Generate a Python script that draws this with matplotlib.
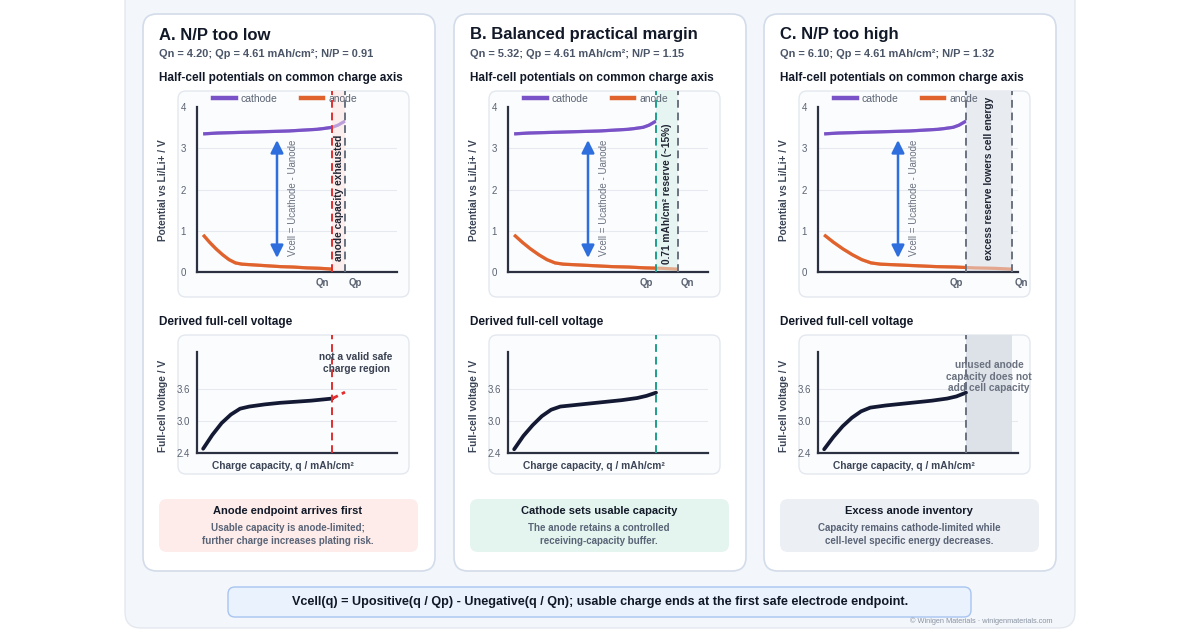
import matplotlib
matplotlib.use('Agg')
import matplotlib.pyplot as plt
from matplotlib.patches import FancyBboxPatch, Rectangle
from matplotlib.lines import Line2D

plt.rcParams['font.family'] = ['Liberation Sans', 'DejaVu Sans']

# ---- data ----
panel_titles = ['A. N/P too low', 'B. Balanced practical margin', 'C. N/P too high']
qn_vals = [4.20, 5.32, 6.10]
qp_vals = [4.61, 4.61, 4.61]
np_vals = [0.91, 1.15, 1.32]

# half-cell curves vs. fraction of each electrode's own capacity
cath_soc = [0, 0.1, 0.2, 0.3, 0.4, 0.5, 0.6, 0.7, 0.8, 0.85, 0.91, 0.95, 1.0]
cath_u = [3.35, 3.37, 3.38, 3.39, 3.40, 3.41, 3.42, 3.44, 3.46, 3.48, 3.51, 3.56, 3.66]
an_soc = [0, 0.05, 0.1, 0.15, 0.2, 0.25, 0.3, 0.4, 0.5, 0.6, 0.7, 0.8, 0.9, 1.0]
an_u = [0.90, 0.72, 0.56, 0.42, 0.30, 0.22, 0.19, 0.17, 0.15, 0.13, 0.12, 0.10, 0.09, 0.07]

# derived full-cell voltage
fc_q = [
    [0, 0.3, 0.6, 0.9, 1.2, 1.5, 2.0, 2.5, 3.0, 3.5, 4.2],
    [0, 0.3, 0.6, 0.9, 1.2, 1.5, 2.0, 2.5, 3.0, 3.5, 4.0, 4.3, 4.61],
    [0, 0.3, 0.6, 0.9, 1.2, 1.5, 2.0, 2.5, 3.0, 3.5, 4.0, 4.3, 4.61],
]
fc_v = [
    [2.48, 2.74, 2.96, 3.12, 3.23, 3.27, 3.31, 3.34, 3.36, 3.38, 3.42],
    [2.47, 2.72, 2.92, 3.09, 3.21, 3.27, 3.30, 3.33, 3.36, 3.39, 3.43, 3.47, 3.53],
    [2.47, 2.70, 2.90, 3.06, 3.18, 3.25, 3.29, 3.32, 3.35, 3.38, 3.42, 3.46, 3.53],
]
unsafe_q = [4.20, 4.61]
unsafe_v = [3.42, 3.54]

marker_text = ['anode capacity exhausted', '0.71 mAh/cm² reserve (~15%)',
               'excess reserve lowers cell energy']
callout_title = ['Anode endpoint arrives first', 'Cathode sets usable capacity',
                 'Excess anode inventory']
callout_body = ['Usable capacity is anode-limited;\nfurther charge increases plating risk.',
                'The anode retains a controlled\nreceiving-capacity buffer.',
                'Capacity remains cathode-limited while\ncell-level specific energy decreases.']
footer = ('Vcell(q) = Upositive(q / Qp) - Unegative(q / Qn); '
          'usable charge ends at the first safe electrode endpoint.')

# ---- styling ----
PURPLE = '#7a52c7'
ORANGE = '#e0632d'
NAVY = '#141a33'
SPINE = '#2b3140'
TICK = '#5b6372'
DARK = '#111827'
SUB = '#4b5568'
limit_col = ['#e02f2f', '#1f9e8c', '#6b7280']
shade_top = ['#fdeeee', '#e6f5f1', '#e8ebf0']
callout_fc = ['#fdecea', '#e4f5ef', '#eceff3']
XMIN, XMAX = -0.2, 6.3

W, H = 1200, 630
fig = plt.figure(figsize=(12, 6.3), dpi=100)
fig.patch.set_facecolor('white')
bg = fig.add_axes([0, 0, 1, 1])
bg.set_xlim(0, W)
bg.set_ylim(H, 0)
bg.axis('off')


def rbox(x0, y0, x1, y1, fc, ec, r, lw=1.0):
    bg.add_patch(FancyBboxPatch((x0, y0), x1 - x0, y1 - y0,
                                boxstyle=f'round,pad=0,rounding_size={r}',
                                fc=fc, ec=ec, lw=lw))


def px_axes(x0, y0, x1, y1):
    ax = fig.add_axes([x0 / W, 1 - y1 / H, (x1 - x0) / W, (y1 - y0) / H])
    ax.patch.set_alpha(0)
    return ax


def style(ax, ylim, spine_top):
    ax.set_xlim(XMIN, XMAX)
    ax.set_ylim(*ylim)
    ax.spines['top'].set_visible(False)
    ax.spines['right'].set_visible(False)
    ax.spines['left'].set_bounds(ylim[0], spine_top)
    for s in ['left', 'bottom']:
        ax.spines[s].set_color(SPINE)
        ax.spines[s].set_linewidth(1.6)
    ax.tick_params(length=0, labelcolor=TICK, labelsize=7)
    ax.set_xticks([])


# outer panel
rbox(125, -30, 1075, 628, '#f3f6fa', '#e4e8ef', 16)

offsets = [0, 311, 621]
for i, off in enumerate(offsets):
    qn, qp = qn_vals[i], qp_vals[i]
    lim = min(qn, qp)
    lo, hi = sorted([qn, qp])

    rbox(143 + off, 14, 435 + off, 571, 'white', '#d3dcea', 14, 1.2)
    rbox(178 + off, 91, 409 + off, 297, '#fbfcfe', '#e3e8ef', 8)
    rbox(178 + off, 335, 409 + off, 474, '#fbfcfe', '#e3e8ef', 8)
    rbox(159 + off, 499, 418 + off, 552, callout_fc[i], 'none', 8)

    bg.text(159 + off, 35, panel_titles[i], fontsize=12, fontweight='bold',
            color=DARK, va='center')
    bg.text(159 + off, 54, f'Qn = {qn:.2f}; Qp = {qp:.2f} mAh/cm²; N/P = {np_vals[i]:.2f}',
            fontsize=7.9, fontweight='bold', color=SUB, va='center')
    bg.text(159 + off, 78, 'Half-cell potentials on common charge axis',
            fontsize=8.5, fontweight='bold', color=DARK, va='center')
    bg.text(159 + off, 322, 'Derived full-cell voltage',
            fontsize=8.5, fontweight='bold', color=DARK, va='center')
    bg.text(288 + off, 511, callout_title[i], fontsize=8, fontweight='bold',
            color=DARK, ha='center', va='center')
    bg.text(288 + off, 534.5, callout_body[i], fontsize=7, fontweight='bold',
            color='#5a6477', ha='center', va='center', linespacing=1.35)

    # ---- half-cell potentials ----
    ax = px_axes(197 + off, 91, 397 + off, 272)
    style(ax, (0, 4.39), 4)
    ax.set_yticks([0, 1, 2, 3, 4])
    ax.tick_params(axis='y', pad=8)
    for g in [1, 2, 3]:
        ax.axhline(g, color='#e6eaf0', lw=0.8, zorder=0)
    ax.axvspan(lo, hi, color=shade_top[i], zorder=0.5, lw=0)
    ax.set_ylabel('Potential vs Li/Li+ / V', fontsize=7.3, fontweight='bold',
                  color='#3b4556')
    ax.yaxis.set_label_coords(-0.145, 0.45)

    cq = [s * qp for s in cath_soc]
    aq = [s * qn for s in an_soc]
    clip = Rectangle((XMIN, -1), lim - XMIN, 10, transform=ax.transData)
    for xs, ys, col in [(cq, cath_u, PURPLE), (aq, an_u, ORANGE)]:
        ax.plot(xs, ys, color=col, lw=2.3, alpha=0.5, solid_capstyle='butt', zorder=2)
        ln, = ax.plot(xs, ys, color=col, lw=2.3, solid_capstyle='butt', zorder=3)
        ln.set_clip_path(clip)

    ax.axvline(lim, color=limit_col[i], lw=1.4, ls=(0, (4, 2.5)), zorder=4)
    ax.axvline(max(qn, qp), color='#6b7280', lw=1.4, ls=(0, (4, 2.5)), zorder=4)

    ax.annotate('', xy=(2.4, 0.34), xytext=(2.4, 3.2),
                arrowprops=dict(arrowstyle='<|-|>', color='#2f6fdd', lw=1.8,
                                mutation_scale=19, shrinkA=0, shrinkB=0))
    ax.text(2.92, 1.8, 'Vcell = Ucathode - Uanode', rotation=90, fontsize=7,
            color='#6b7280', ha='center', va='center')
    ax.text((qn + qp) / 2, [1.8, 1.9, 2.28][i], marker_text[i], rotation=90,
            fontsize=7.3, fontweight='bold', color='#1f2533', ha='center', va='center')

    lo_name, hi_name = ('Qn', 'Qp') if qn < qp else ('Qp', 'Qn')
    for q, name, dx in [(lo, lo_name, -10), (hi, hi_name, 10)]:
        ax.annotate(name, xy=(q, 0), xytext=(dx, -11), textcoords='offset pixels',
                    ha='center', va='center', fontsize=7, fontweight='bold',
                    color=TICK, annotation_clip=False)

    handles = [Line2D([], [], color=PURPLE, lw=3.2), Line2D([], [], color=ORANGE, lw=3.2)]
    leg = ax.legend(handles, ['cathode', 'anode'], ncol=2, loc='center',
                    bbox_to_anchor=(0.44, 0.955), frameon=False, fontsize=7.5,
                    handlelength=2.2, handletextpad=0.5, columnspacing=2.2,
                    labelcolor=TICK, borderaxespad=0)
    leg.set_zorder(1)

    # ---- derived full-cell voltage ----
    bx = px_axes(197 + off, 335, 397 + off, 453)
    style(bx, (2.4, 4.61), 4.3)
    bx.set_yticks([2.4, 3.0, 3.6])
    bx.set_yticklabels(['2.4', '3.0', '3.6'])
    bx.tick_params(axis='y', pad=5)
    for g in [3.0, 3.6]:
        bx.axhline(g, color='#e6eaf0', lw=0.8, zorder=0)
    bx.set_ylabel('Full-cell voltage / V', fontsize=7.3, fontweight='bold',
                  color='#3b4556')
    bx.yaxis.set_label_coords(-0.145, 0.4)
    bx.set_xlabel('Charge capacity, q / mAh/cm²', fontsize=7.3, fontweight='bold',
                  color='#3b4556')
    bx.xaxis.set_label_coords(0.43, -0.065)
    if i == 2:
        bx.axvspan(lo, hi, color='#dde1e8', zorder=0.5, lw=0)
    bx.plot(fc_q[i], fc_v[i], color=NAVY, lw=2.7, solid_capstyle='round', zorder=3)
    bx.axvline(lim, color=limit_col[i], lw=1.4, ls=(0, (4, 2.5)), zorder=4)
    if i == 0:
        bx.plot(unsafe_q, unsafe_v, color=limit_col[0], lw=2.0, ls=(0, (2.2, 1.6)), zorder=5)
        bx.text(4.97, 4.09, 'not a valid safe\ncharge region', fontsize=7.3,
                fontweight='bold', color='#3b4252', ha='center', va='center',
                linespacing=1.3, zorder=5)
    if i == 2:
        bx.text(5.36, 3.83, 'unused anode\ncapacity does not\nadd cell capacity',
                fontsize=7.3, fontweight='bold', color='#6b7280', ha='center',
                va='center', linespacing=1.15, zorder=5)

# footer
rbox(228, 587, 971, 617, '#eaf2fe', '#a8c5f0', 7, 1.0)
bg.text(600, 602, footer, fontsize=9.1, fontweight='bold', color=DARK,
        ha='center', va='center')
bg.text(1052, 621, '© Winigen Materials · winigenmaterials.com', fontsize=5.3,
        color='#8a94a3', ha='right', va='center')

fig.savefig('out.png', dpi=100, facecolor='white')
